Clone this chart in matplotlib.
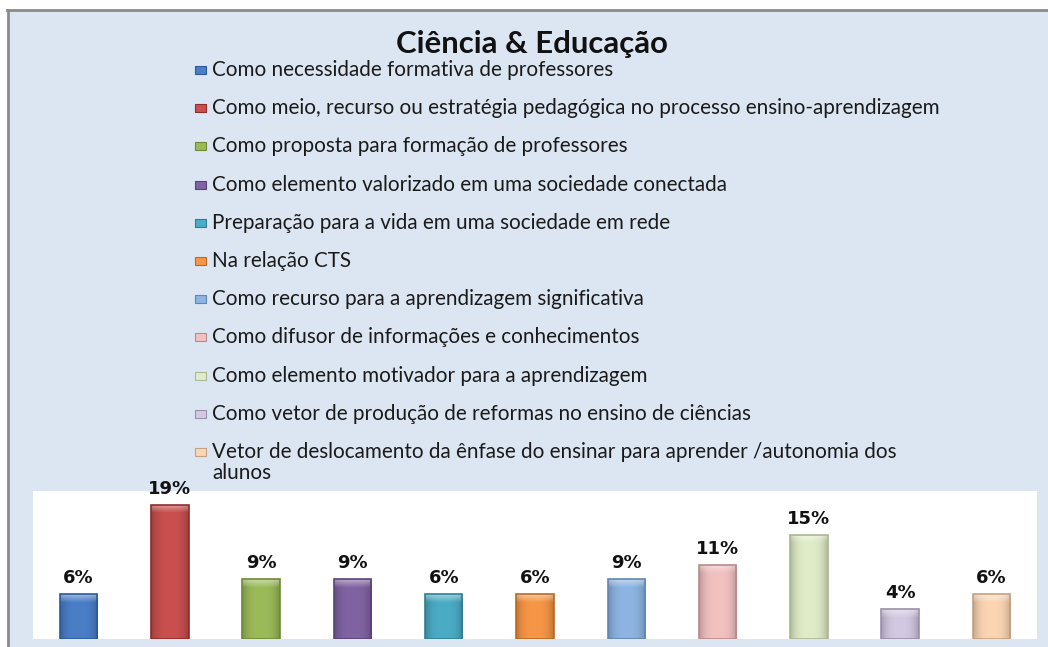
import matplotlib
matplotlib.use("Agg")
import numpy as np
import matplotlib.pyplot as plt
from matplotlib.patches import Rectangle
from matplotlib.lines import Line2D
from matplotlib.colors import to_rgb

title = "Ciência & Educação"
categories = [
    "Como necessidade formativa de professores",
    "Como meio, recurso ou estratégia pedagógica no processo ensino-aprendizagem",
    "Como proposta para formação de professores",
    "Como elemento valorizado em uma sociedade conectada",
    "Preparação para a vida em uma sociedade em rede",
    "Na relação CTS",
    "Como recurso para a aprendizagem significativa",
    "Como difusor de informações e conhecimentos",
    "Como elemento motivador para a aprendizagem",
    "Como vetor de produção de reformas no ensino de ciências",
    "Vetor de deslocamento da ênfase do ensinar para aprender /autonomia dos\nalunos",
]
values = [6.38, 19.15, 8.51, 8.51, 6.38, 6.38, 8.51, 10.64, 14.89, 4.26, 6.38]
colors = ["#4A7FC8", "#C9504E", "#9BBB59", "#8064A2", "#4BACC6", "#F79646",
          "#8DB4E2", "#F2C2C1", "#E0ECC8", "#D3C9E2", "#FCD5B4"]
edge_colors = ["#2C5A96", "#8E2E2C", "#6E8A36", "#59437A", "#2E7F95", "#B86A24",
               "#6286B4", "#B98A89", "#A9B792", "#9A90AA", "#C3A282"]

W, H = 1048, 647
fig = plt.figure(figsize=(W / 100, H / 100), dpi=100, facecolor="white")


def fx(px):
    return px / W


def fy(py):
    return 1 - py / H


# chart area background and border
fig.patches.append(Rectangle((fx(8), 0), 1 - fx(8), fy(10), transform=fig.transFigure,
                             facecolor="#DCE6F2", edgecolor="none", zorder=-5))
fig.add_artist(Line2D([fx(7), 1], [fy(10), fy(10)], color="#8A8A8A", lw=2))
fig.add_artist(Line2D([fx(8), fx(8)], [0, fy(10)], color="#8A8A8A", lw=2))

# plot area
ax = fig.add_axes([fx(33), fy(639), fx(1037) - fx(33), fy(491) - fy(639)])
ax.set_zorder(1)
ax.set_facecolor("white")
for s in ax.spines.values():
    s.set_visible(False)
ax.set_xticks([])
ax.set_yticks([])

x = list(range(len(values)))
bars = ax.bar(x, values, width=0.41, color=colors, edgecolor=edge_colors, linewidth=1.2, zorder=2)
ax.set_xlim(-0.5, len(values) - 0.5)
ax.set_ylim(0, 148 / 7.0)

# bevelled shading inside each bar (derived from the bar geometry)
px_per_unit = (fy(491) - fy(639)) * H / (148 / 7.0)
for b, c in zip(bars, colors):
    base = np.array(to_rgb(c))
    hpx = max(int(round(b.get_height() * px_per_unit)), 2)
    nx = 40
    t = np.linspace(0, 1, nx)
    shade = 1 - 0.22 * np.abs(2 * t - 1) ** 3
    img = np.ones((hpx, nx, 3)) * base
    img *= shade[None, :, None]
    bev = min(8, hpx)
    for r in range(bev):
        k = 0.45 * (1 - r / bev)
        img[r] = img[r] + (1 - img[r]) * k
    img = np.clip(img, 0, 1)
    x0, w = b.get_x(), b.get_width()
    im = ax.imshow(img, extent=(x0, x0 + w, 0, b.get_height()), aspect="auto",
                   origin="upper", zorder=2.5, interpolation="bilinear")
    im.set_clip_path(b)
    b.set_zorder(3)
    b.set_facecolor("none")

for b, v in zip(bars, values):
    ax.annotate(f"{v:.0f}%", (b.get_x() + b.get_width() / 2, b.get_height()),
                xytext=(0, 5), textcoords="offset points", ha="center", va="bottom",
                fontsize=13, fontweight="bold", color="#111111", annotation_clip=False,
                family="DejaVu Sans", zorder=4)

ax.set_xlim(-0.5, len(values) - 0.5)
ax.set_ylim(0, 148 / 7.0)

# title
fig.text(fx(532), fy(44), title, ha="center", va="center", fontsize=22.4,
         fontweight="bold", family="Lato", color="#111111")

# legend (manual, to match the original layout)
fig.canvas.draw()
renderer = fig.canvas.get_renderer()
probe = fig.text(0, 0, categories[1], fontsize=10, family="Lato")
wpx = probe.get_window_extent(renderer).width
probe.remove()
leg_size = 10 * 728 / wpx

for i, (lab, c, ec) in enumerate(zip(categories, colors, edge_colors)):
    yc = 70 + 38.2 * i
    fig.patches.append(Rectangle((fx(195), fy(yc + 4)), fx(11), 8 / H, transform=fig.transFigure,
                                 facecolor=c, edgecolor=ec, lw=0.8, zorder=3))
    for j, line in enumerate(lab.split("\n")):
        fig.text(fx(212), fy(yc + 21 * j), line, ha="left", va="center",
                 fontsize=leg_size, family="Lato", color="#1A1A1A")

fig.savefig("out.png", dpi=100, facecolor="white")
